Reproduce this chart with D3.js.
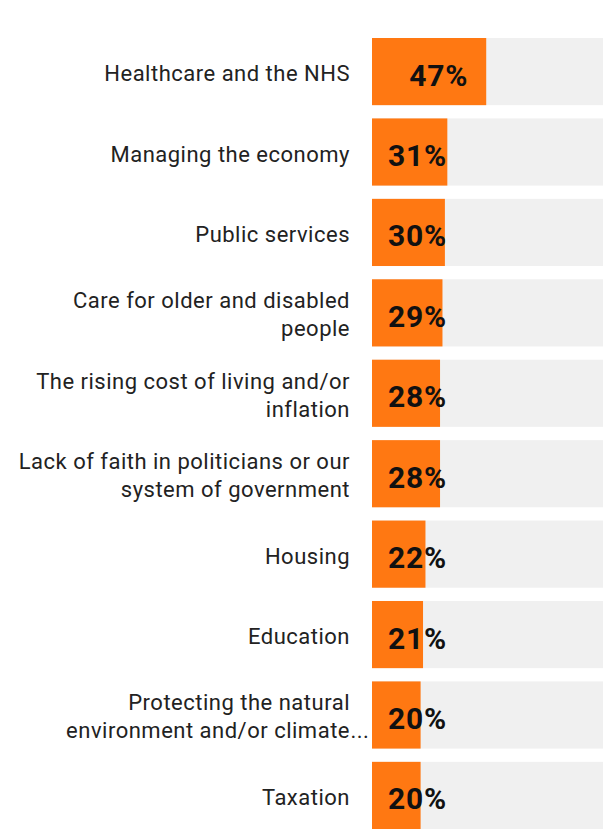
<!DOCTYPE html>
<meta charset="utf-8">
<head>
<script src="https://cdn.jsdelivr.net/npm/d3@7"></script>
<style>
  body { margin: 0; background: #fff; }
  text { font-family: Roboto, "Noto Sans", sans-serif; }
</style>
</head>
<body>
<svg id="chart"></svg>
<script>
var categories = [
  ["Healthcare and the NHS"],
  ["Managing the economy"],
  ["Public services"],
  ["Care for older and disabled", "people"],
  ["The rising cost of living and/or", "inflation"],
  ["Lack of faith in politicians or our", "system of government"],
  ["Housing"],
  ["Education"],
  ["Protecting the natural", "environment and/or climate..."],
  ["Taxation"]
];
var values = [47, 31, 30, 29, 28, 28, 22, 21, 20, 20];

var width = 603, height = 830;
var svg = d3.select("#chart").attr("width", width).attr("height", height);

var x = d3.scaleLinear().domain([0, 100]).range([372, 615]);
var y = d3.scaleBand().domain(d3.range(values.length)).range([38, 829]).paddingInner(0.165).paddingOuter(0);

var row = svg.selectAll("g.row")
  .data(values)
  .enter().append("g")
  .attr("class", "row");

row.append("rect")
  .attr("x", x(0))
  .attr("y", function(d, i) { return y(i); })
  .attr("width", x(100) - x(0))
  .attr("height", y.bandwidth())
  .attr("fill", "#f0f0f0");

row.append("rect")
  .attr("x", x(0))
  .attr("y", function(d, i) { return y(i); })
  .attr("width", function(d) { return x(d) - x(0); })
  .attr("height", y.bandwidth())
  .attr("fill", "#ff7812");

// category labels (a trailing "..." hangs past the right edge)
row.each(function(d, i) {
  var g = d3.select(this);
  var lines = categories[i];
  var cy = y(i) + y.bandwidth() / 2;
  var lh = 28;
  lines.forEach(function(l, j) {
    var ly = cy + 9.5 + (j - (lines.length - 1) / 2) * lh;
    var main = l, tail = "";
    if (l.slice(-3) === "...") { main = l.slice(0, -3); tail = "..."; }
    g.append("text")
      .attr("x", 350).attr("y", ly)
      .attr("text-anchor", "end")
      .attr("font-size", 22)
      .attr("letter-spacing", 0.5)
      .attr("fill", "#222")
      .text(main);
    if (tail) {
      g.append("text")
        .attr("x", 350.5).attr("y", ly)
        .attr("font-size", 22)
        .attr("letter-spacing", 0.5)
        .attr("fill", "#222")
        .text(tail);
    }
  });
});

// value labels
row.append("text")
  .attr("font-size", 30)
  .attr("font-weight", "bold")
  .attr("letter-spacing", 0.8)
  .attr("fill", "#111")
  .text(function(d) { return d + "%"; })
  .each(function(d, i) {
    var w = this.getComputedTextLength();
    var left = Math.max(x(0) + 16, x(d) - 18 - w);
    d3.select(this).attr("x", left).attr("y", y(i) + y.bandwidth() / 2 + 14);
  });
</script>
</body>
